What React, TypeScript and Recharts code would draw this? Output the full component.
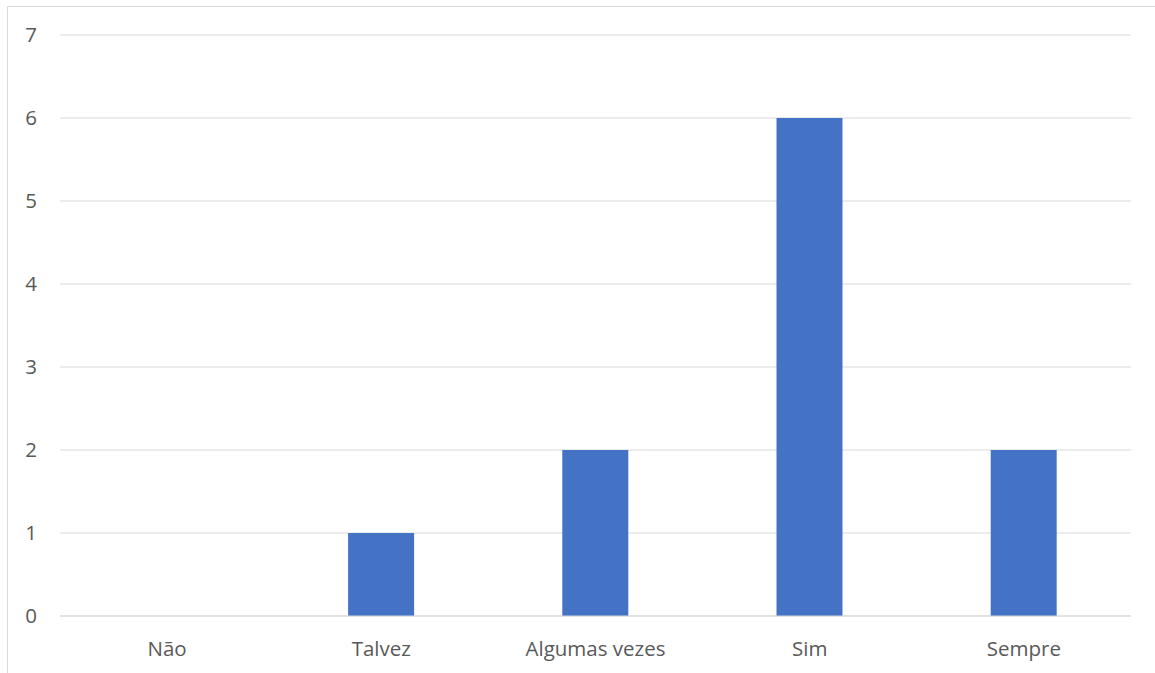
import { BarChart, Bar, XAxis, YAxis, CartesianGrid } from "recharts";

const categories = ["Não", "Talvez", "Algumas vezes", "Sim", "Sempre"];
const counts = [0, 1, 2, 6, 2];
const yTicks = [0, 1, 2, 3, 4, 5, 6, 7];

const data = categories.map((name, i) => ({ name, value: counts[i] }));

const FONT = "'Open Sans', 'Noto Sans', sans-serif";

export default function App() {
  return (
    <div
      style={{
        position: "absolute",
        left: 0,
        top: 0,
        width: 1155,
        height: 673,
        overflow: "hidden",
        background: "#fff",
      }}
    >
      {/* chart border, runs off the right and bottom edge */}
      <div
        style={{
          position: "absolute",
          left: 7,
          top: 6,
          width: 1170,
          height: 690,
          border: "1px solid #d9d9d9",
          boxSizing: "border-box",
        }}
      />
      <div style={{ position: "absolute", left: 0, top: 0 }}>
        <BarChart
          width={1155}
          height={673}
          data={data}
          margin={{ top: 35, right: 24, left: 0, bottom: 0 }}
          barCategoryGap="34.5%"
        >
          <CartesianGrid vertical={false} stroke="#d9d9d9" strokeWidth={1} />
          <XAxis
            dataKey="name"
            height={57}
            tickLine={false}
            axisLine={{ stroke: "#d9d9d9" }}
            tickSize={0}
            tickMargin={25}
            tick={{ fill: "#595959", fontSize: 20.5, fontFamily: FONT }}
          />
          <YAxis
            width={60}
            domain={[0, 7]}
            ticks={yTicks}
            interval={0}
            axisLine={false}
            tickLine={false}
            tickSize={0}
            tickMargin={23}
            tick={{ fill: "#595959", fontSize: 20.5, fontFamily: FONT }}
          />
          <Bar dataKey="value" fill="#4472C4" isAnimationActive={false} />
        </BarChart>
      </div>
    </div>
  );
}
